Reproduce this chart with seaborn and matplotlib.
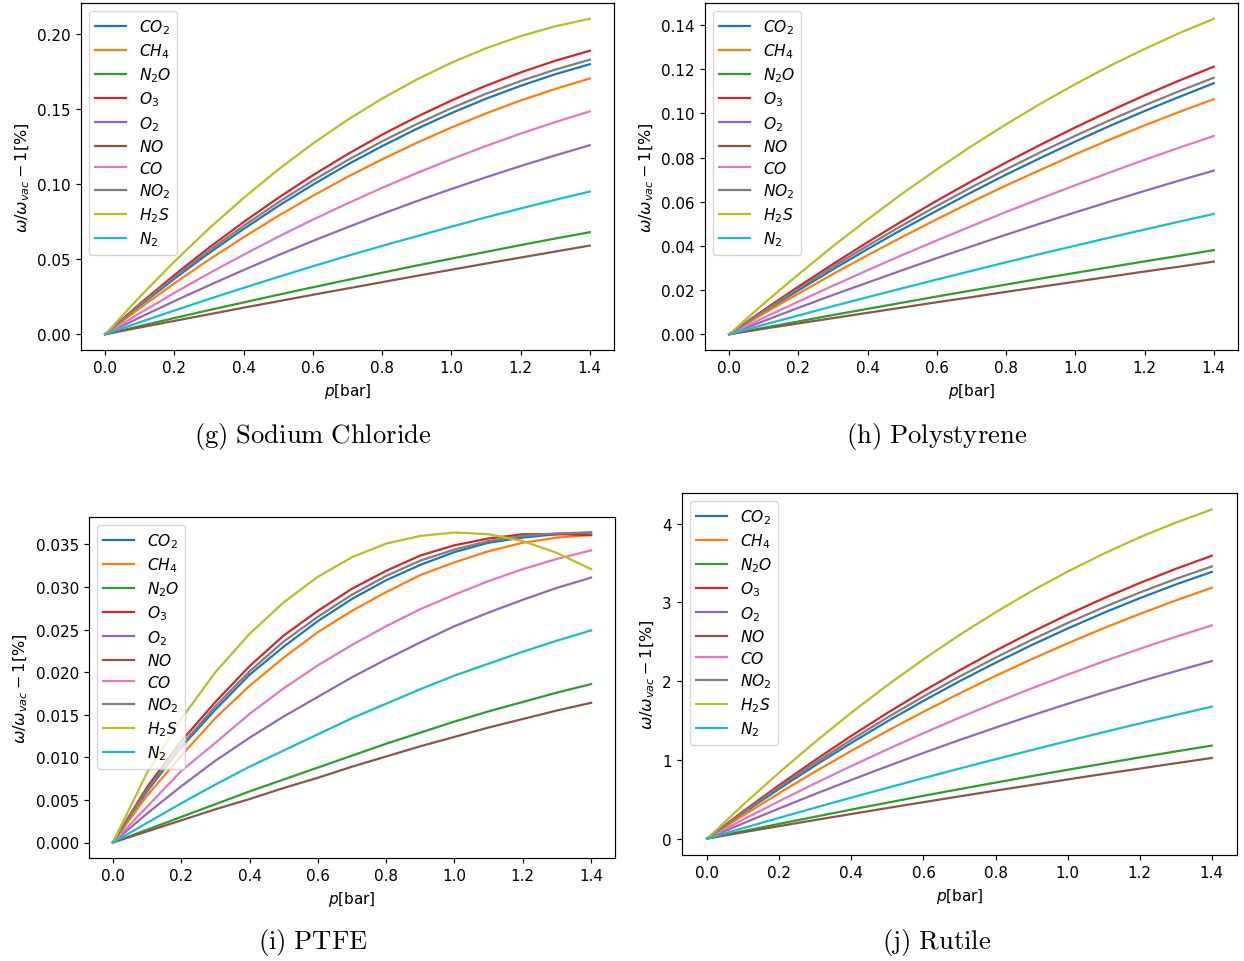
import matplotlib
matplotlib.use("Agg")
import matplotlib.pyplot as plt
import pandas as pd
import seaborn as sns

# Pressure grid [bar]
pressure = [0.0, 0.1, 0.2, 0.3, 0.4, 0.5, 0.6, 0.7, 0.8, 0.9, 1.0, 1.1, 1.2, 1.3, 1.4]

gases = ["CO2", "CH4", "N2O", "O3", "O2", "NO", "CO", "NO2", "H2S", "N2"]
gas_labels = [r"$CO_2$", r"$CH_4$", r"$N_2O$", r"$O_3$", r"$O_2$",
              r"$NO$", r"$CO$", r"$NO_2$", r"$H_2S$", r"$N_2$"]

# Relative frequency shift omega/omega_vac - 1 [%], one row per gas (order of `gases`)
sodium_chloride = [
    [0, 0.0190, 0.0370, 0.0541, 0.0702, 0.0855, 0.0997, 0.1131, 0.1254, 0.1369, 0.1474, 0.1570, 0.1656, 0.1733, 0.1800],
    [0, 0.0174, 0.0340, 0.0497, 0.0647, 0.0789, 0.0923, 0.1049, 0.1166, 0.1276, 0.1378, 0.1472, 0.1558, 0.1635, 0.1705],
    [0, 0.0054, 0.0108, 0.0161, 0.0212, 0.0263, 0.0313, 0.0362, 0.0410, 0.0458, 0.0504, 0.0549, 0.0594, 0.0638, 0.0680],
    [0, 0.0203, 0.0395, 0.0577, 0.0748, 0.0909, 0.1060, 0.1200, 0.1330, 0.1449, 0.1558, 0.1657, 0.1745, 0.1823, 0.1890],
    [0, 0.0112, 0.0221, 0.0326, 0.0428, 0.0527, 0.0622, 0.0713, 0.0802, 0.0887, 0.0968, 0.1046, 0.1121, 0.1192, 0.1260],
    [0, 0.0045, 0.0089, 0.0133, 0.0177, 0.0220, 0.0263, 0.0305, 0.0347, 0.0389, 0.0430, 0.0471, 0.0511, 0.0551, 0.0591],
    [0, 0.0140, 0.0276, 0.0406, 0.0530, 0.0650, 0.0764, 0.0872, 0.0976, 0.1074, 0.1167, 0.1255, 0.1337, 0.1414, 0.1486],
    [0, 0.0196, 0.0381, 0.0557, 0.0723, 0.0879, 0.1024, 0.1160, 0.1286, 0.1401, 0.1507, 0.1603, 0.1688, 0.1764, 0.1830],
    [0, 0.0250, 0.0485, 0.0705, 0.0909, 0.1098, 0.1271, 0.1429, 0.1571, 0.1698, 0.1810, 0.1906, 0.1987, 0.2053, 0.2103],
    [0, 0.0080, 0.0158, 0.0235, 0.0309, 0.0382, 0.0453, 0.0522, 0.0589, 0.0653, 0.0717, 0.0779, 0.0838, 0.0896, 0.0951],
]

polystyrene = [
    [0, 0.0101, 0.0199, 0.0294, 0.0386, 0.0475, 0.0560, 0.0643, 0.0723, 0.0799, 0.0873, 0.0944, 0.1011, 0.1075, 0.1137],
    [0, 0.0094, 0.0184, 0.0273, 0.0358, 0.0441, 0.0521, 0.0599, 0.0674, 0.0745, 0.0815, 0.0882, 0.0946, 0.1007, 0.1065],
    [0, 0.0029, 0.0058, 0.0087, 0.0115, 0.0143, 0.0171, 0.0198, 0.0225, 0.0252, 0.0278, 0.0304, 0.0330, 0.0355, 0.0381],
    [0, 0.0110, 0.0216, 0.0318, 0.0417, 0.0513, 0.0605, 0.0693, 0.0778, 0.0859, 0.0937, 0.1011, 0.1082, 0.1149, 0.1212],
    [0, 0.0060, 0.0120, 0.0178, 0.0234, 0.0290, 0.0345, 0.0398, 0.0451, 0.0502, 0.0552, 0.0601, 0.0649, 0.0696, 0.0741],
    [0, 0.0025, 0.0049, 0.0073, 0.0097, 0.0121, 0.0145, 0.0168, 0.0192, 0.0215, 0.0238, 0.0261, 0.0284, 0.0306, 0.0329],
    [0, 0.0075, 0.0148, 0.0220, 0.0290, 0.0359, 0.0425, 0.0490, 0.0554, 0.0615, 0.0675, 0.0733, 0.0790, 0.0845, 0.0898],
    [0, 0.0105, 0.0207, 0.0306, 0.0401, 0.0493, 0.0581, 0.0666, 0.0747, 0.0825, 0.0899, 0.0970, 0.1037, 0.1101, 0.1162],
    [0, 0.0139, 0.0271, 0.0399, 0.0520, 0.0637, 0.0747, 0.0852, 0.0951, 0.1045, 0.1133, 0.1216, 0.1292, 0.1364, 0.1429],
    [0, 0.0043, 0.0085, 0.0127, 0.0168, 0.0208, 0.0248, 0.0287, 0.0326, 0.0364, 0.0401, 0.0438, 0.0474, 0.0510, 0.0545],
]

ptfe = [
    [0, 0.0060, 0.0112, 0.0156, 0.0197, 0.0230, 0.0260, 0.0286, 0.0308, 0.0326, 0.0341, 0.0352, 0.0358, 0.0362, 0.0364],
    [0, 0.0055, 0.0102, 0.0146, 0.0184, 0.0217, 0.0247, 0.0272, 0.0294, 0.0314, 0.0329, 0.0342, 0.0352, 0.0358, 0.0361],
    [0, 0.0015, 0.0030, 0.0045, 0.0060, 0.0074, 0.0088, 0.0102, 0.0116, 0.0129, 0.0142, 0.0154, 0.0165, 0.0176, 0.0186],
    [0, 0.0065, 0.0119, 0.0165, 0.0207, 0.0243, 0.0272, 0.0298, 0.0319, 0.0337, 0.0349, 0.0357, 0.0362, 0.0362, 0.0361],
    [0, 0.0034, 0.0066, 0.0096, 0.0123, 0.0148, 0.0171, 0.0194, 0.0215, 0.0235, 0.0254, 0.0270, 0.0285, 0.0299, 0.0311],
    [0, 0.0013, 0.0026, 0.0039, 0.0051, 0.0064, 0.0076, 0.0089, 0.0101, 0.0113, 0.0124, 0.0135, 0.0145, 0.0155, 0.0164],
    [0, 0.0042, 0.0084, 0.0117, 0.0151, 0.0181, 0.0208, 0.0232, 0.0254, 0.0274, 0.0291, 0.0307, 0.0321, 0.0333, 0.0343],
    [0, 0.0062, 0.0114, 0.0160, 0.0201, 0.0236, 0.0265, 0.0291, 0.0313, 0.0331, 0.0344, 0.0354, 0.0360, 0.0363, 0.0364],
    [0, 0.0082, 0.0145, 0.0200, 0.0245, 0.0282, 0.0312, 0.0335, 0.0351, 0.0360, 0.0364, 0.0362, 0.0354, 0.0340, 0.0321],
    [0, 0.0023, 0.0046, 0.0068, 0.0089, 0.0108, 0.0127, 0.0146, 0.0163, 0.0180, 0.0196, 0.0210, 0.0224, 0.0237, 0.0249],
]

rutile = [
    [0, 0.323, 0.633, 0.931, 1.216, 1.490, 1.750, 1.999, 2.234, 2.458, 2.669, 2.868, 3.054, 3.228, 3.389],
    [0, 0.294, 0.578, 0.852, 1.115, 1.369, 1.611, 1.844, 2.067, 2.279, 2.481, 2.673, 2.854, 3.026, 3.187],
    [0, 0.094, 0.187, 0.278, 0.368, 0.456, 0.543, 0.628, 0.711, 0.793, 0.874, 0.953, 1.031, 1.107, 1.181],
    [0, 0.347, 0.680, 0.999, 1.305, 1.596, 1.874, 2.137, 2.387, 2.623, 2.845, 3.053, 3.247, 3.427, 3.594],
    [0, 0.194, 0.383, 0.567, 0.745, 0.919, 1.088, 1.252, 1.410, 1.564, 1.712, 1.856, 1.994, 2.127, 2.255],
    [0, 0.080, 0.158, 0.236, 0.312, 0.388, 0.462, 0.536, 0.609, 0.680, 0.751, 0.821, 0.889, 0.957, 1.024],
    [0, 0.242, 0.476, 0.703, 0.922, 1.134, 1.339, 1.536, 1.726, 1.908, 2.083, 2.251, 2.411, 2.564, 2.709],
    [0, 0.334, 0.655, 0.963, 1.257, 1.538, 1.805, 2.058, 2.299, 2.525, 2.739, 2.939, 3.126, 3.299, 3.458],
    [0, 0.430, 0.840, 1.230, 1.600, 1.949, 2.278, 2.587, 2.875, 3.144, 3.392, 3.620, 3.828, 4.014, 4.182],
    [0, 0.133, 0.264, 0.393, 0.520, 0.645, 0.768, 0.889, 1.008, 1.124, 1.239, 1.352, 1.462, 1.570, 1.677],
]

captions = ["(g) Sodium Chloride", "(h) Polystyrene", "(i) PTFE", "(j) Rutile"]

# Styling (matplotlib defaults, slightly scaled up)
s = 1.07
plt.rcParams.update({
    "font.family": ["DejaVu Sans"],
    "font.size": 10.9,
    "lines.linewidth": 1.5 * s,
    "axes.linewidth": 0.8 * s,
    "xtick.major.size": 3.5 * s,
    "ytick.major.size": 3.5 * s,
    "xtick.major.width": 0.8 * s,
    "ytick.major.width": 0.8 * s,
})

palette = sns.color_palette("tab10", len(gases))

W, H = 1244, 962
fig = plt.figure(figsize=(W / 100, H / 100), dpi=100)


def px_axes(left, top, right, bottom):
    return fig.add_axes([left / W, 1 - bottom / H, (right - left) / W, (bottom - top) / H])


panels = [
    (sodium_chloride, (81, 4, 614, 351), (313, 437)),
    (polystyrene, (705, 4, 1238, 351), (937, 437)),
    (ptfe, (89, 518, 615, 859), (313, 943)),
    (rutile, (682, 494, 1237, 856), (937, 943)),
]

for (values, box, cap_xy), caption in zip(panels, captions):
    ax = px_axes(*box)
    frame = pd.DataFrame({
        "p": [p for _ in gases for p in pressure],
        "shift": [v for row in values for v in row],
        "gas": [g for g in gases for _ in pressure],
    })
    sns.lineplot(data=frame, x="p", y="shift", hue="gas", hue_order=gases,
                 palette=palette, ax=ax, legend=False, linewidth=1.5 * s)
    ax.set_xlabel(r"$p$[bar]", fontsize=11.0)
    ax.set_ylabel(r"$\omega/\omega_{vac} - 1$[%]", fontsize=11.5)
    ax.legend(handles=ax.lines[:len(gases)], labels=gas_labels, loc="upper left",
              fontsize=11.2, labelspacing=0.355)
    fig.text(cap_xy[0] / W, 1 - cap_xy[1] / H, r"$\mathrm{" + caption.replace(" ", r"\ ") + "}$",
             math_fontfamily="cm", fontsize=19.2, ha="center", va="center")

fig.savefig("out.png", dpi=100)
